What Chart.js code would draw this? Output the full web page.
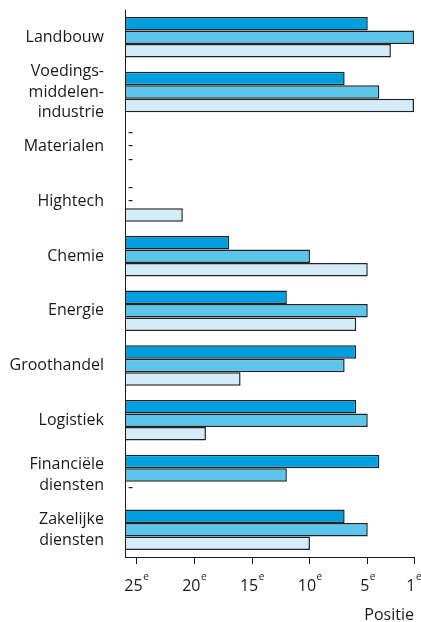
<!DOCTYPE html>
<html lang="nl">
<head>
<meta charset="utf-8">
<title>Positie per sector</title>
<script src="https://cdn.jsdelivr.net/npm/chart.js@4/dist/chart.umd.min.js"></script>
<style>
  html, body { margin: 0; padding: 0; background: #ffffff; }
  canvas { display: block; }
</style>
</head>
<body>
<canvas id="chart" width="421" height="622"></canvas>
<script>
// Sectoren (y-as), meerregelige namen als arrays
const sectors = [
  'Landbouw',
  ['Voedings-', 'middelen-', 'industrie'],
  'Materialen',
  'Hightech',
  'Chemie',
  'Energie',
  'Groothandel',
  'Logistiek',
  ['Financiële', 'diensten'],
  ['Zakelijke', 'diensten']
];

// Positie (1e = beste) per sector; null = geen positie ("-")
const positionsA = [5, 7, null, null, 17, 12, 6, 6, 4, 7];
const positionsB = [1, 4, null, null, 10, 5, 7, 5, 12, 5];
const positionsC = [3, 1, null, 21, 5, 6, 16, 19, null, 10];

// Posities die op de x-as worden gemarkeerd
const tickPositions = [25, 20, 15, 10, 5, 1];

const seriesColors = ['#009fdf', '#5cc5ec', '#d4ebf8'];
const LOWEST = 26; // linkerrand van de as ligt één positie voorbij 25e

// Balklengte: hoe verder naar rechts, hoe hoger de positie
const toLength = p => (p == null ? null : LOWEST - p);

const FONT = '"Open Sans", "Noto Sans", sans-serif';
const TEXT = '#1a1a1a';
const AXIS = '#1a1a1a';

// Tekent de tick-labels (met superscript "e"), de as-titel, de y-as over de balken
// en "-" bij ontbrekende posities
const labelPlugin = {
  id: 'positieLabels',
  afterDatasetsDraw(chart) {
    const ctx = chart.ctx;
    const xs = chart.scales.x;
    const ys = chart.scales.y;
    ctx.save();
    ctx.strokeStyle = AXIS;
    ctx.lineWidth = 1;
    ctx.beginPath();
    ctx.moveTo(xs.left + 0.5, ys.top);
    ctx.lineTo(xs.left + 0.5, ys.bottom);
    ctx.stroke();
    ctx.restore();
  },
  afterDraw(chart) {
    const ctx = chart.ctx;
    const xs = chart.scales.x;
    ctx.save();
    ctx.fillStyle = TEXT;
    ctx.textBaseline = 'alphabetic';

    const baseY = xs.bottom - 31;
    tickPositions.forEach(p => {
      const x = xs.getPixelForValue(LOWEST - p);
      const num = String(p);
      ctx.font = '16px ' + FONT;
      const wNum = ctx.measureText(num).width;
      ctx.font = '10px ' + FONT;
      const wSup = ctx.measureText('e').width;
      const left = x - (wNum + 0.5 + wSup) / 2;
      ctx.font = '16px ' + FONT;
      ctx.textAlign = 'left';
      ctx.fillText(num, left, baseY);
      ctx.font = '10px ' + FONT;
      ctx.fillText('e', left + wNum + 0.5, baseY - 11.5);
    });

    ctx.font = '16px ' + FONT;
    ctx.textAlign = 'right';
    ctx.fillText('Positie', xs.right, chart.height - 2);

    // streepje voor ontbrekende posities
    ctx.textAlign = 'left';
    ctx.textBaseline = 'middle';
    ctx.font = '16px ' + FONT;
    chart.data.datasets.forEach((ds, di) => {
      const meta = chart.getDatasetMeta(di);
      ds.data.forEach((v, i) => {
        if (v == null) {
          const el = meta.data[i];
          ctx.fillText('-', xs.left + 3, el.y - 1);
        }
      });
    });
    ctx.restore();
  }
};

const makeSet = (label, positions, color) => ({
  label,
  data: positions.map(toLength),
  backgroundColor: color,
  borderColor: '#222222',
  borderWidth: 1.5,
  borderSkipped: 'start',
  barPercentage: 1,
  categoryPercentage: 0.74
});

new Chart(document.getElementById('chart'), {
  type: 'bar',
  data: {
    labels: sectors,
    datasets: [
      makeSet('Reeks A', positionsA, seriesColors[0]),
      makeSet('Reeks B', positionsB, seriesColors[1]),
      makeSet('Reeks C', positionsC, seriesColors[2])
    ]
  },
  options: {
    indexAxis: 'y',
    responsive: false,
    animation: false,
    layout: { padding: { left: 0, right: 7, top: 10, bottom: 0 } },
    plugins: {
      legend: { display: false },
      tooltip: { enabled: false }
    },
    scales: {
      x: {
        type: 'linear',
        min: 0,
        max: LOWEST - 1,
        afterBuildTicks(scale) {
          scale.ticks = tickPositions.map(p => ({ value: LOWEST - p }));
        },
        afterFit(scale) {
          scale.height = 65;
          scale.paddingLeft = 0;
          scale.paddingRight = 0;
        },
        grid: {
          display: true,
          drawOnChartArea: false,
          drawTicks: true,
          tickLength: 7,
          color: AXIS,
          lineWidth: 1
        },
        border: { display: true, color: AXIS, width: 1 },
        ticks: { display: false }
      },
      y: {
        afterFit(scale) {
          scale.width = 125;
          scale.paddingTop = 0;
          scale.paddingBottom = 0;
        },
        grid: { display: false, drawTicks: false, tickLength: 0 },
        border: { display: true, color: AXIS, width: 1 },
        ticks: {
          color: TEXT,
          padding: 21,
          autoSkip: false,
          font: { family: FONT, size: 16, lineHeight: 1.3 }
        }
      }
    }
  },
  plugins: [labelPlugin]
});
</script>
</body>
</html>
